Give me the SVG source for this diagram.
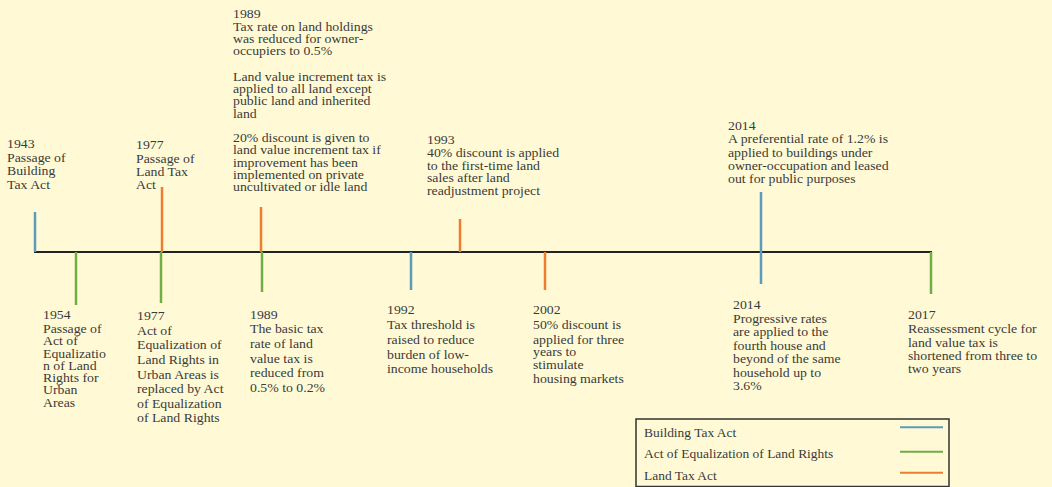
<svg xmlns="http://www.w3.org/2000/svg" width="1052" height="487" viewBox="0 0 1052 487">
<style>
.t{font-family:"Liberation Serif","Times New Roman",serif;font-size:11.7px;fill:#3a3a3a}
.b{stroke:#5B9BBE;stroke-width:2.5;fill:none}
.g{stroke:#70AD47;stroke-width:2.5;fill:none}
.o{stroke:#ED7D31;stroke-width:2.5;fill:none}
.ax{stroke:#222;stroke-width:2;fill:none}
</style>
<rect x="0" y="0" width="1052" height="487" fill="#FFFAD5"/>
<g id="connectors">
<line class="ax" x1="34" y1="252" x2="932" y2="252"/>
<line class="b" x1="35" y1="212" x2="35" y2="252"/>
<line class="g" x1="76" y1="252" x2="76" y2="305"/>
<line class="o" x1="162" y1="187" x2="162" y2="252"/>
<line class="g" x1="161" y1="252" x2="161" y2="303"/>
<line class="o" x1="261" y1="207" x2="261" y2="252"/>
<line class="g" x1="262" y1="252" x2="262" y2="292"/>
<line class="b" x1="411" y1="252" x2="411" y2="290"/>
<line class="o" x1="460" y1="219" x2="460" y2="252"/>
<line class="o" x1="545" y1="252" x2="545" y2="290"/>
<line class="b" x1="761" y1="192" x2="761" y2="284"/>
<line class="g" x1="931" y1="252" x2="931" y2="294"/>
</g>
<g id="e1943" transform="translate(7 0) scale(1.18 1)"><text class="t"><tspan x="0" y="148.5">1943</tspan><tspan x="0" y="162">Passage of</tspan><tspan x="0" y="175.5">Building</tspan><tspan x="0" y="189">Tax Act</tspan></text></g>
<g id="e1977top" transform="translate(136 0) scale(1.18 1)"><text class="t"><tspan x="0" y="149">1977</tspan><tspan x="0" y="163">Passage of</tspan><tspan x="0" y="176.5">Land Tax</tspan><tspan x="0" y="189.5">Act</tspan></text></g>
<g id="e1989top" transform="translate(233 0) scale(1.18 1)"><text class="t"><tspan x="0" y="18">1989</tspan><tspan x="0" y="31">Tax rate on land holdings</tspan><tspan x="0" y="43.2">was reduced for owner-</tspan><tspan x="0" y="55.4">occupiers to 0.5%</tspan><tspan x="0" y="81">Land value increment tax is</tspan><tspan x="0" y="93.2">applied to all land except</tspan><tspan x="0" y="105.4">public land and inherited</tspan><tspan x="0" y="117.6">land</tspan><tspan x="0" y="142.2">20% discount is given to</tspan><tspan x="0" y="154.4">land value increment tax if</tspan><tspan x="0" y="166.6">improvement has been</tspan><tspan x="0" y="178.8">implemented on private</tspan><tspan x="0" y="191">uncultivated or idle land</tspan></text></g>
<g id="e1993" transform="translate(427 0) scale(1.18 1)"><text class="t"><tspan x="0" y="144.5">1993</tspan><tspan x="0" y="157.5">40% discount is applied</tspan><tspan x="0" y="170">to the first-time land</tspan><tspan x="0" y="182.3">sales after land</tspan><tspan x="0" y="194.6">readjustment project</tspan></text></g>
<g id="e2014top" transform="translate(728 0) scale(1.18 1)"><text class="t"><tspan x="0" y="130">2014</tspan><tspan x="0" y="143.5">A preferential rate of 1.2% is</tspan><tspan x="0" y="157">applied to buildings under</tspan><tspan x="0" y="170">owner-occupation and leased</tspan><tspan x="0" y="183.5">out for public purposes</tspan></text></g>
<g id="e1954" transform="translate(43 0) scale(1.18 1)"><text class="t"><tspan x="0" y="319">1954</tspan><tspan x="0" y="333">Passage of</tspan><tspan x="0" y="345.3">Act of</tspan><tspan x="0" y="357.6">Equalizatio</tspan><tspan x="0" y="369.9">n of Land</tspan><tspan x="0" y="382.2">Rights for</tspan><tspan x="0" y="394.5">Urban</tspan><tspan x="0" y="406.8">Areas</tspan></text></g>
<g id="e1977bot" transform="translate(137 0) scale(1.18 1)"><text class="t"><tspan x="0" y="320">1977</tspan><tspan x="0" y="335">Act of</tspan><tspan x="0" y="349.5">Equalization of</tspan><tspan x="0" y="364">Land Rights in</tspan><tspan x="0" y="379">Urban Areas is</tspan><tspan x="0" y="393.5">replaced by Act</tspan><tspan x="0" y="408">of Equalization</tspan><tspan x="0" y="422.5">of Land Rights</tspan></text></g>
<g id="e1989bot" transform="translate(250 0) scale(1.18 1)"><text class="t"><tspan x="0" y="319">1989</tspan><tspan x="0" y="333">The basic tax</tspan><tspan x="0" y="348">rate of land</tspan><tspan x="0" y="363">value tax is</tspan><tspan x="0" y="377.5">reduced from</tspan><tspan x="0" y="392">0.5% to 0.2%</tspan></text></g>
<g id="e1992" transform="translate(387 0) scale(1.18 1)"><text class="t"><tspan x="0" y="314.5">1992</tspan><tspan x="0" y="329">Tax threshold is</tspan><tspan x="0" y="344">raised to reduce</tspan><tspan x="0" y="359">burden of low-</tspan><tspan x="0" y="373.5">income households</tspan></text></g>
<g id="e2002" transform="translate(533 0) scale(1.18 1)"><text class="t"><tspan x="0" y="314.5">2002</tspan><tspan x="0" y="329.5">50% discount is</tspan><tspan x="0" y="344">applied for three</tspan><tspan x="0" y="356.5">years to</tspan><tspan x="0" y="369.5">stimulate</tspan><tspan x="0" y="383">housing markets</tspan></text></g>
<g id="e2014bot" transform="translate(733 0) scale(1.18 1)"><text class="t"><tspan x="0" y="309">2014</tspan><tspan x="0" y="323">Progressive rates</tspan><tspan x="0" y="336.5">are applied to the</tspan><tspan x="0" y="350">fourth house and</tspan><tspan x="0" y="363.5">beyond of the same</tspan><tspan x="0" y="377">household up to</tspan><tspan x="0" y="390.5">3.6%</tspan></text></g>
<g id="e2017" transform="translate(908 0) scale(1.18 1)"><text class="t"><tspan x="0" y="319.5">2017</tspan><tspan x="0" y="333.5">Reassessment cycle for</tspan><tspan x="0" y="347">land value tax is</tspan><tspan x="0" y="360">shortened from three to</tspan><tspan x="0" y="373">two years</tspan></text></g>
<g id="legend">
<rect x="636" y="419" width="313" height="67.5" fill="none" stroke="#333" stroke-width="1.5"/>
<g transform="translate(644 0) scale(1.15 1)"><text class="t"><tspan x="0" y="436.7">Building Tax Act</tspan><tspan x="0" y="457.7">Act of Equalization of Land Rights</tspan><tspan x="0" y="480">Land Tax Act</tspan></text></g>
<line x1="900" y1="427.3" x2="943" y2="427.3" stroke="#5B9BBE" stroke-width="2"/>
<line x1="900" y1="451.7" x2="943" y2="451.7" stroke="#70AD47" stroke-width="2"/>
<line x1="900" y1="472.7" x2="943" y2="472.7" stroke="#ED7D31" stroke-width="2"/>
</g>
</svg>
